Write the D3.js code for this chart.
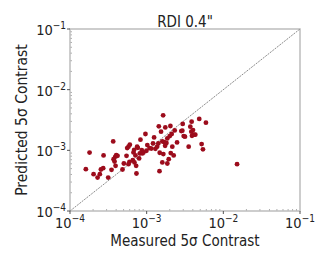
<!DOCTYPE html>
<html><head><meta charset="utf-8">
<script src="https://cdn.jsdelivr.net/npm/d3@7"></script>
<style>
body{margin:0;background:#fff;}
text{font-family:'DejaVu Sans Condensed','DejaVu Sans',sans-serif;fill:#222;}
</style></head>
<body><svg id="c" width="332" height="266"></svg>
<script>
const measured = [1.61e-4,1.80e-4,2.03e-4,2.29e-4,2.45e-4,2.53e-4,2.74e-4,2.71e-4,3.15e-4,3.48e-4,
3.66e-4,3.81e-4,3.89e-4,4.01e-4,3.70e-4,4.17e-4,3.93e-4,4.84e-4,5.04e-4,5.46e-4,
5.57e-4,5.79e-4,5.97e-4,6.03e-4,5.79e-4,6.59e-4,6.73e-4,6.87e-4,6.93e-4,7.14e-4,
7.36e-4,7.29e-4,7.51e-4,7.66e-4,7.97e-4,8.13e-4,8.30e-4,8.63e-4,8.81e-4,9.08e-4,
9.64e-4,9.93e-4,1.02e-3,1.09e-3,1.15e-3,1.21e-3,1.25e-3,1.30e-3,1.37e-3,1.42e-3,
1.44e-3,1.47e-3,1.48e-3,1.54e-3,1.60e-3,1.60e-3,1.64e-3,1.65e-3,1.69e-3,1.74e-3,
1.75e-3,1.81e-3,1.86e-3,1.86e-3,1.94e-3,2.00e-3,2.04e-3,2.06e-3,2.12e-3,2.16e-3,
2.25e-3,2.32e-3,2.49e-3,2.83e-3,2.92e-3,2.95e-3,3.04e-3,3.16e-3,3.53e-3,3.71e-3,
3.82e-3,3.86e-3,3.90e-3,4.02e-3,4.14e-3,4.31e-3,4.85e-3,5.21e-3,5.42e-3,5.93e-3,
1.51e-2];
const predicted = [4.89e-4,9.2e-4,4.04e-4,3.56e-4,4.04e-4,4.83e-4,8.24e-4,5.08e-4,3.56e-4,4.77e-4,
1.40e-3,6.55e-4,7.83e-4,8.34e-4,7.16e-4,8.13e-4,5.55e-4,4.83e-4,6.07e-4,8.13e-4,
1.09e-3,1.15e-3,6.47e-4,1.24e-3,5.92e-4,6.89e-4,9.23e-4,1.02e-3,6.31e-4,8.24e-4,
4.15e-4,5.55e-4,1.15e-3,1.10e-3,7.35e-4,8.89e-4,1.50e-3,1.01e-3,8.89e-4,9.23e-4,
1.86e-3,9.84e-4,1.22e-3,1.09e-3,1.07e-3,1.30e-3,1.63e-3,1.06e-3,1.15e-3,1.30e-3,
2.49e-3,4.53e-4,9.12e-4,2.03e-3,6.31e-4,1.40e-3,3.78e-3,8.66e-4,1.37e-3,1.19e-3,
2.39e-3,1.32e-3,1.57e-3,6.07e-4,7.16e-4,1.72e-3,2.52e-3,9.00e-4,1.86e-3,1.15e-3,
8.24e-4,2.13e-3,1.35e-3,2.08e-3,2.11e-3,2.72e-3,1.72e-3,1.68e-3,1.15e-3,2.45e-3,
2.03e-3,2.97e-3,1.74e-3,2.16e-3,1.81e-3,1.81e-3,3.29e-3,1.27e-3,1.04e-3,2.86e-3,
5.92e-4];
const tickValues = [1e-4,1e-3,1e-2,1e-1];
const tickExponents = ["\u22124","\u22123","\u22122","\u22121"];
const title = "RDI 0.4\"";
const xLabel = "Measured 5\u03C3 Contrast";
const yLabel = "Predicted 5\u03C3 Contrast";

const svg = d3.select("#c");
const L=70, R=300, T=29, B=211;
const x = d3.scaleLog().domain([1e-4,1e-1]).range([L,R]);
const y = d3.scaleLog().domain([1e-4,1e-1]).range([B,T]);
const spine = "#bdbdbd";

// minor ticks
const minors = [];
for (let e=-4;e<-1;e++) for (let m=2;m<10;m++) minors.push(m*Math.pow(10,e));
svg.append("g").selectAll("line").data(minors).join("line")
  .attr("x1",L).attr("x2",L+2).attr("y1",d=>y(d)).attr("y2",d=>y(d))
  .attr("stroke","#999").attr("stroke-width",0.8);
svg.append("g").selectAll("line").data(minors).join("line")
  .attr("y1",B).attr("y2",B-2).attr("x1",d=>x(d)).attr("x2",d=>x(d))
  .attr("stroke","#999").attr("stroke-width",0.8);

// spines
svg.append("rect").attr("x",L).attr("y",T).attr("width",R-L).attr("height",B-T)
  .attr("fill","none").attr("stroke",spine).attr("stroke-width",1.5);

// major ticks
svg.append("g").selectAll("line").data(tickValues).join("line")
  .attr("x1",L-3).attr("x2",L).attr("y1",d=>y(d)).attr("y2",d=>y(d))
  .attr("stroke","#555").attr("stroke-width",1);
svg.append("g").selectAll("line").data(tickValues).join("line")
  .attr("y1",B).attr("y2",B+3).attr("x1",d=>x(d)).attr("x2",d=>x(d))
  .attr("stroke","#555").attr("stroke-width",1);

// diagonal
svg.append("line").attr("x1",x(1e-4)).attr("y1",y(1e-4)).attr("x2",x(1e-1)).attr("y2",y(1e-1))
  .attr("stroke","#8c8c8c").attr("stroke-width",1).attr("stroke-dasharray","2,1");

// points
svg.append("g").selectAll("circle").data(measured.map((m,i)=>[m,predicted[i]])).join("circle")
  .attr("cx",d=>x(d[0])).attr("cy",d=>y(d[1])).attr("r",2.4)
  .attr("fill","#9c0c1c");

// tick labels
function tickLabel(g, exp){
  g.append("tspan").text("10");
  g.append("tspan").attr("dy",-6).attr("font-size",10).text(exp);
}
tickValues.forEach((v,i)=>{
  const t = svg.append("text").attr("x",x(v)).attr("y",B+17).attr("text-anchor","middle").attr("font-size",14.5);
  tickLabel(t, tickExponents[i]);
  const t2 = svg.append("text").attr("x",L-4).attr("y",y(v)+6).attr("text-anchor","end").attr("font-size",14.5);
  tickLabel(t2, tickExponents[i]);
});

svg.append("text").attr("x",(L+R)/2).attr("y",27).attr("text-anchor","middle").attr("font-size",15).text(title);
svg.append("text").attr("x",(L+R)/2).attr("y",246).attr("text-anchor","middle").attr("font-size",15).text(xLabel);
svg.append("text").attr("transform",`translate(27,${(T+B)/2}) rotate(-90)`).attr("text-anchor","middle").attr("font-size",15.5).text(yLabel);
</script></body></html>
